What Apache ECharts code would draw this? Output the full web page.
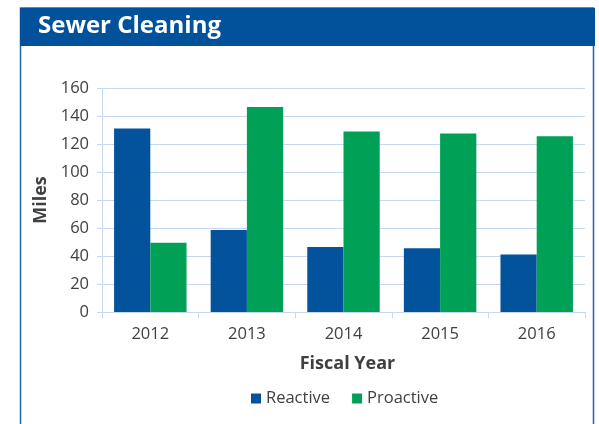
<!DOCTYPE html>
<html>
<head>
<meta charset="utf-8">
<script src="https://cdn.jsdelivr.net/npm/echarts@6/dist/echarts.min.js"></script>
<style>
  html, body { margin: 0; padding: 0; background: #fff; }
  #chart { width: 599px; height: 424px; }
</style>
</head>
<body>
<div id="chart"></div>
<script>
  var years = ["2012", "2013", "2014", "2015", "2016"];
  var reactive = [131, 58.5, 46.5, 45.5, 41];
  var proactive = [49.5, 146.5, 129, 127.5, 125.5];

  var myChart = echarts.init(document.getElementById("chart"));
  var font = "'Open Sans', sans-serif";
  var gridColor = "#c6d9f0";

  myChart.setOption({
    animation: false,
    textStyle: { fontFamily: font },
    title: {
      text: "Sewer Cleaning",
      left: 33,
      top: 9,
      textStyle: { color: "#fff", fontSize: 24, fontWeight: "bold", fontFamily: font },
    },
    graphic: [
      {
        type: "rect",
        z: -1,
        shape: { x: 20.5, y: 8, width: 573, height: 430 },
        style: { fill: "#fff", stroke: "#1b66b6", lineWidth: 1.5 },
      },
      {
        type: "rect",
        z: -1,
        shape: { x: 20, y: 8, width: 575, height: 38 },
        style: { fill: "#02529b" },
      },
    ],
    legend: {
      bottom: 12,
      left: 246,
      itemWidth: 10,
      itemHeight: 10,
      itemGap: 22,
      icon: "rect",
      textStyle: { color: "#404040", fontSize: 16.5, fontFamily: font },
      data: ["Reactive", "Proactive"],
    },
    grid: {
      left: 102,
      right: 14,
      top: 88,
      bottom: 112,
    },
    xAxis: {
      type: "category",
      data: years,
      name: "Fiscal Year",
      nameLocation: "middle",
      nameGap: 43,
      nameTextStyle: { color: "#404040", fontSize: 18, fontWeight: "bold", fontFamily: font, padding: [0, 0, 0, 8] },
      axisLine: { lineStyle: { color: gridColor } },
      axisTick: { show: true, length: 6, lineStyle: { color: gridColor } },
      axisLabel: { color: "#404040", fontSize: 16.5, margin: 14, fontFamily: font },
    },
    yAxis: {
      type: "value",
      min: 0,
      max: 160,
      interval: 20,
      name: "Miles",
      nameLocation: "middle",
      nameRotate: 90,
      nameGap: 52,
      nameTextStyle: { color: "#404040", fontSize: 18, fontWeight: "bold", fontFamily: font },
      axisLine: { show: true, lineStyle: { color: gridColor } },
      axisTick: { show: true, length: 5, lineStyle: { color: gridColor } },
      axisLabel: { color: "#404040", fontSize: 16.5, margin: 13, fontFamily: font },
      splitLine: { lineStyle: { color: gridColor } },
    },
    series: [
      {
        name: "Reactive",
        type: "bar",
        data: reactive,
        barGap: "0%",
        barCategoryGap: "25%",
        itemStyle: { color: "#02529c" },
      },
      {
        name: "Proactive",
        type: "bar",
        data: proactive,
        itemStyle: { color: "#00a057" },
      },
    ],
  });
</script>
</body>
</html>
